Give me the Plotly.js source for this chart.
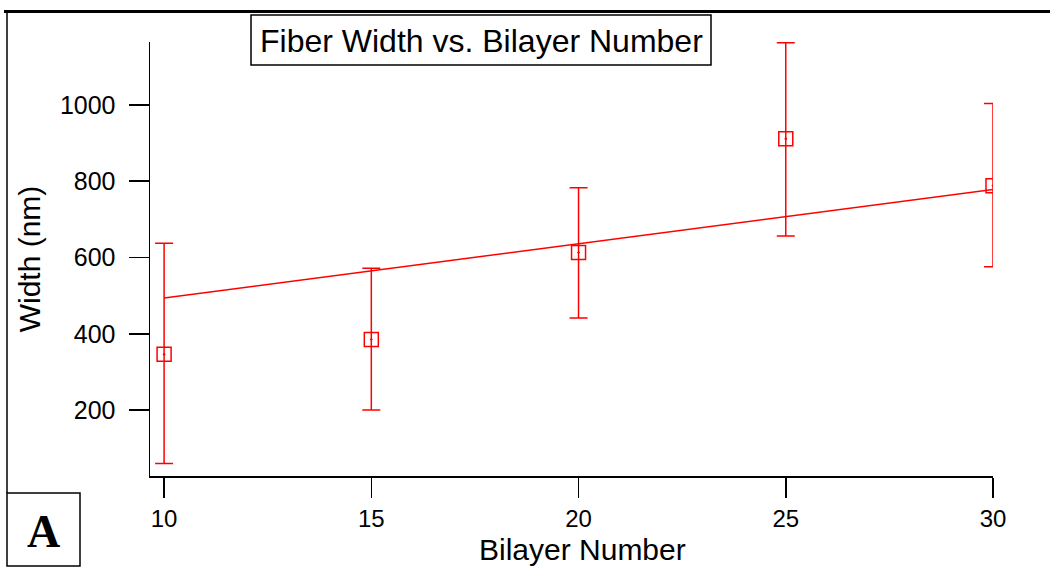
<!DOCTYPE html>
<html>
<head>
<meta charset="utf-8">
<script src="https://cdn.plot.ly/plotly-3.0.1.min.js"></script>
<style>
  html, body { margin: 0; padding: 0; background: #ffffff; }
  #chart { width: 1050px; height: 567px; }
</style>
</head>
<body>
<div id="chart"></div>
<script>
// ---- data ----
const bilayers = [10, 15, 20, 25, 30];
const widthNm = [346, 385, 613, 911, 788];
const errPlus = [291, 187, 170, 252, 216];
const errMinus = [286, 185, 172, 255, 212];
const fitX = [10, 30];
const fitY = [494, 778];
const yTicks = [200, 400, 600, 800, 1000];
const xTicks = [10, 15, 20, 25, 30];

const chartTitle = 'Fiber Width vs. Bilayer Number';
const xTitle = 'Bilayer Number';
const yTitle = 'Width (nm)';
const panelLabel = 'A';

// ---- layout geometry (pixels) ----
const W = 1050, H = 567;
const plotL = 150, plotR = 993, plotT = 42, plotB = 476;
const px = v => (v - plotL) / (plotR - plotL);
const py = v => (plotB - v) / (plotB - plotT);

const RED = '#ff0000';
const FONT = 'Arial, "Liberation Sans", sans-serif';

const traces = [
  {
    x: fitX, y: fitY, type: 'scatter', mode: 'lines',
    line: { color: RED, width: 1.5 }, hoverinfo: 'skip', showlegend: false
  },
  {
    x: bilayers, y: widthNm, type: 'scatter', mode: 'markers',
    marker: { symbol: 'square-open-dot', size: 14, color: RED, line: { color: RED, width: 1.5 } },
    error_y: { type: 'data', symmetric: false, array: errPlus, arrayminus: errMinus,
               color: RED, thickness: 1.5, width: 9 },
    showlegend: false
  }
];

const layout = {
  width: W, height: H,
  margin: { l: plotL, r: W - plotR, t: plotT, b: H - plotB, pad: 0 },
  paper_bgcolor: '#ffffff', plot_bgcolor: '#ffffff',
  font: { family: FONT, color: '#000000', size: 25 },
  showlegend: false,
  xaxis: {
    range: [9.66, 30], tickvals: xTicks, ticktext: xTicks.map(String),
    showgrid: false, zeroline: false, showline: true, linecolor: '#000', linewidth: 1.5,
    ticks: 'outside', ticklen: 20, tickwidth: 1.5, tickcolor: '#000',
    tickfont: { family: FONT, size: 24, color: '#000' }, ticklabelstandoff: 1,
    automargin: false
  },
  yaxis: {
    range: [27, 1165], tickvals: yTicks, ticktext: yTicks.map(String),
    showgrid: false, zeroline: false, showline: true, linecolor: '#000', linewidth: 1.5,
    ticks: 'outside', ticklen: 20, tickwidth: 1.5, tickcolor: '#000',
    tickfont: { family: FONT, size: 25, color: '#000' }, ticklabelstandoff: 8,
    title: { text: yTitle, font: { family: FONT, size: 30, color: '#000' }, standoff: 10 },
    automargin: false
  },
  shapes: [
    // outer frame: thick top rule and thin left rule
    { type: 'line', xref: 'paper', yref: 'paper', x0: px(4), x1: px(1050), y0: py(11.5), y1: py(11.5),
      line: { color: '#000', width: 3 } },
    { type: 'line', xref: 'paper', yref: 'paper', x0: px(7), x1: px(7), y0: py(11.5), y1: py(493),
      line: { color: '#000', width: 1.5 } },
    // title box
    { type: 'rect', xref: 'paper', yref: 'paper', x0: px(251), x1: px(711), y0: py(15), y1: py(65),
      line: { color: '#000', width: 1.5 }, fillcolor: 'rgba(0,0,0,0)' },
    // panel label box
    { type: 'rect', xref: 'paper', yref: 'paper', x0: px(7), x1: px(80), y0: py(493), y1: py(566),
      line: { color: '#000', width: 1.5 }, fillcolor: 'rgba(0,0,0,0)' }
  ],
  annotations: [
    { text: chartTitle, xref: 'paper', yref: 'paper', x: px(481), y: py(41),
      xanchor: 'center', yanchor: 'middle', showarrow: false,
      font: { family: FONT, size: 32, color: '#000' } },
    { text: '<b>' + panelLabel + '</b>', xref: 'paper', yref: 'paper', x: px(44), y: py(531),
      xanchor: 'center', yanchor: 'middle', showarrow: false,
      font: { family: '"Times New Roman", "Liberation Serif", serif', size: 46, color: '#000' } },
    { text: xTitle, xref: 'paper', yref: 'paper', x: px(582), y: py(549),
      xanchor: 'center', yanchor: 'middle', showarrow: false,
      font: { family: FONT, size: 30, color: '#000' } }
  ]
};

Plotly.newPlot('chart', traces, layout, { staticPlot: true, displayModeBar: false });
</script>
</body>
</html>
